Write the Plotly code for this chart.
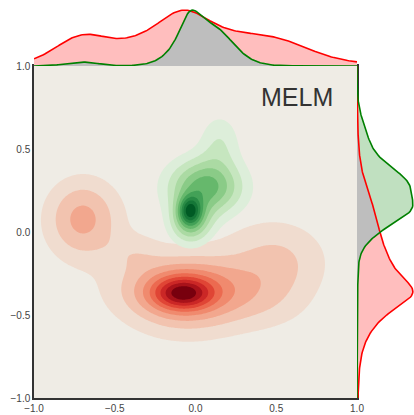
import numpy as np
import plotly.graph_objects as go

# ---- data: 2-D density components (centre, spread, relative height)
red_cx = [-0.08, -0.06, -0.05, 0.50, 0.45, -0.70, -0.38, 0.00]
red_cy = [-0.37, -0.35, -0.55, -0.18, -0.45, 0.08, -0.12, -0.20]
red_sx = [0.12, 0.26, 0.26, 0.22, 0.20, 0.16, 0.12, 0.70]
red_sy = [0.065, 0.13, 0.13, 0.17, 0.12, 0.17, 0.08, 0.40]
red_amp = [0.50, 0.57, 0.08, 0.22, 0.08, 0.36, 0.10, 0.05]

green_cx = [-0.035, -0.03, 0.06, 0.15, -0.70]
green_cy = [0.13, 0.05, 0.27, 0.55, 0.05]
green_sx = [0.05, 0.09, 0.16, 0.09, 0.10]
green_sy = [0.06, 0.09, 0.12, 0.12, 0.30]
green_amp = [0.35, 0.26, 0.38, 0.12, 0.02]

red_band_colors = ["#F0DCCF", "#F2C3AF", "#F2A78E", "#F08A6E", "#EC6A50",
                   "#E04535", "#CB2726", "#A8121A", "#78000E"]
green_band_colors = ["#DDEEDA", "#C6E6BF", "#ABDAA3", "#8ACB87", "#66B86C",
                     "#43A157", "#298A45", "#157637", "#005A24"]

tick_vals = [-1.0, -0.5, 0.0, 0.5, 1.0]
tick_text = ["\u22121.0", "\u22120.5", "0.0", "0.5", "1.0"]
label = "MELM"

# ---- densities
g = np.linspace(-1, 1, 241)
X, Y = np.meshgrid(g, g)


def dens2d(cx, cy, sx, sy, amp):
    Z = np.zeros_like(X)
    for a, b, c, d, e in zip(cx, cy, sx, sy, amp):
        Z += e * np.exp(-0.5 * (((X - a) / c) ** 2 + ((Y - b) / d) ** 2))
    return Z


def marg(t, c, s_main, s_other, amp):
    m = np.zeros_like(t)
    for a, b, o, e in zip(c, s_main, s_other, amp):
        m += e * o * np.exp(-0.5 * ((t - a) / b) ** 2)
    return m / m.max()


Zr = dens2d(red_cx, red_cy, red_sx, red_sy, red_amp)
Zg = dens2d(green_cx, green_cy, green_sx, green_sy, green_amp)

rx = marg(g, red_cx, red_sx, red_sy, red_amp)
ry = marg(g, red_cy, red_sy, red_sx, red_amp)
gx = marg(g, green_cx, green_sx, green_sy, green_amp)
gy = marg(g, green_cy, green_sy, green_sx, green_amp)


def contour(Z, colors):
    zmax = Z.max()
    step = zmax / 10
    cols = ["rgba(0,0,0,0)"] + colors
    n = len(cols) - 1
    cs = [[i / n, c] for i, c in enumerate(cols)]
    return go.Contour(x=g, y=g, z=Z, xaxis="x", yaxis="y",
                      contours=dict(start=step, end=step * 9, size=step,
                                    coloring="fill", showlines=False),
                      colorscale=cs, showscale=False, line=dict(width=0),
                      hoverinfo="skip")


fig = go.Figure()
fig.add_trace(contour(Zr, red_band_colors))
fig.add_trace(contour(Zg, green_band_colors))

PINK = "#FFBEBE"
LGREEN = "#C0E0C0"
GREY = "#BEBEBE"

# top marginal
fig.add_trace(go.Scatter(x=g, y=rx, xaxis="x2", yaxis="y2", mode="none",
                         fill="tozeroy", fillcolor=PINK))
fig.add_trace(go.Scatter(x=g, y=gx, xaxis="x2", yaxis="y2", mode="none",
                         fill="tozeroy", fillcolor=LGREEN))
fig.add_trace(go.Scatter(x=g, y=np.minimum(rx, gx), xaxis="x2", yaxis="y2",
                         mode="none", fill="tozeroy", fillcolor=GREY))
fig.add_trace(go.Scatter(x=g, y=rx, xaxis="x2", yaxis="y2", mode="lines",
                         line=dict(color="#FF0000", width=1.6)))
fig.add_trace(go.Scatter(x=g, y=gx, xaxis="x2", yaxis="y2", mode="lines",
                         line=dict(color="#008000", width=1.6)))

# right marginal
fig.add_trace(go.Scatter(x=ry, y=g, xaxis="x3", yaxis="y3", mode="none",
                         fill="tozerox", fillcolor=PINK))
fig.add_trace(go.Scatter(x=gy, y=g, xaxis="x3", yaxis="y3", mode="none",
                         fill="tozerox", fillcolor=LGREEN))
fig.add_trace(go.Scatter(x=np.minimum(ry, gy), y=g, xaxis="x3", yaxis="y3",
                         mode="none", fill="tozerox", fillcolor=GREY))
fig.add_trace(go.Scatter(x=ry, y=g, xaxis="x3", yaxis="y3", mode="lines",
                         line=dict(color="#FF0000", width=1.6)))
fig.add_trace(go.Scatter(x=gy, y=g, xaxis="x3", yaxis="y3", mode="lines",
                         line=dict(color="#008000", width=1.6)))

W, H = 414, 415
xd = [34 / W, 357 / W]
yd = [(H - 398) / H, (H - 66) / H]
tickfont = dict(family="Liberation Sans, Arial, sans-serif", size=10, color="#444444")

fig.update_layout(
    width=W, height=H, margin=dict(l=0, r=0, t=0, b=0, autoexpand=False),
    paper_bgcolor="white", plot_bgcolor="white", showlegend=False,
    xaxis=dict(domain=xd, range=[-1, 1], tickvals=tick_vals, ticktext=tick_text,
               showgrid=False, zeroline=False, showline=True, mirror=True,
               linecolor="#333", linewidth=1.5, ticks="", tickfont=tickfont,
               anchor="y", automargin=False),
    yaxis=dict(domain=yd, range=[-1, 1], tickvals=tick_vals, ticktext=tick_text,
               showgrid=False, zeroline=False, showline=True, mirror=True,
               linecolor="#333", linewidth=1.5, ticks="", tickfont=tickfont,
               anchor="x", automargin=False),
    xaxis2=dict(domain=xd, matches="x", anchor="y2", visible=False, automargin=False),
    yaxis2=dict(domain=[yd[1], 1.0], range=[0, 1.18], anchor="x2", visible=False,
                automargin=False),
    xaxis3=dict(domain=[xd[1], 1.0], range=[0, 1.02], anchor="y3", visible=False,
                automargin=False),
    yaxis3=dict(domain=yd, matches="y", anchor="x3", visible=False, automargin=False),
    shapes=[dict(type="rect", xref="x domain", yref="y domain", x0=0, x1=1,
                 y0=0, y1=1, fillcolor="#EFECE5", line=dict(width=0), layer="below")],
    annotations=[dict(text=label, x=0.865, y=0.815, xref="x", yref="y",
                      xanchor="right", yanchor="middle", showarrow=False,
                      font=dict(family="Liberation Sans, Arial, sans-serif",
                                size=25, color="#333"))],
)

fig.write_html("out.html")
